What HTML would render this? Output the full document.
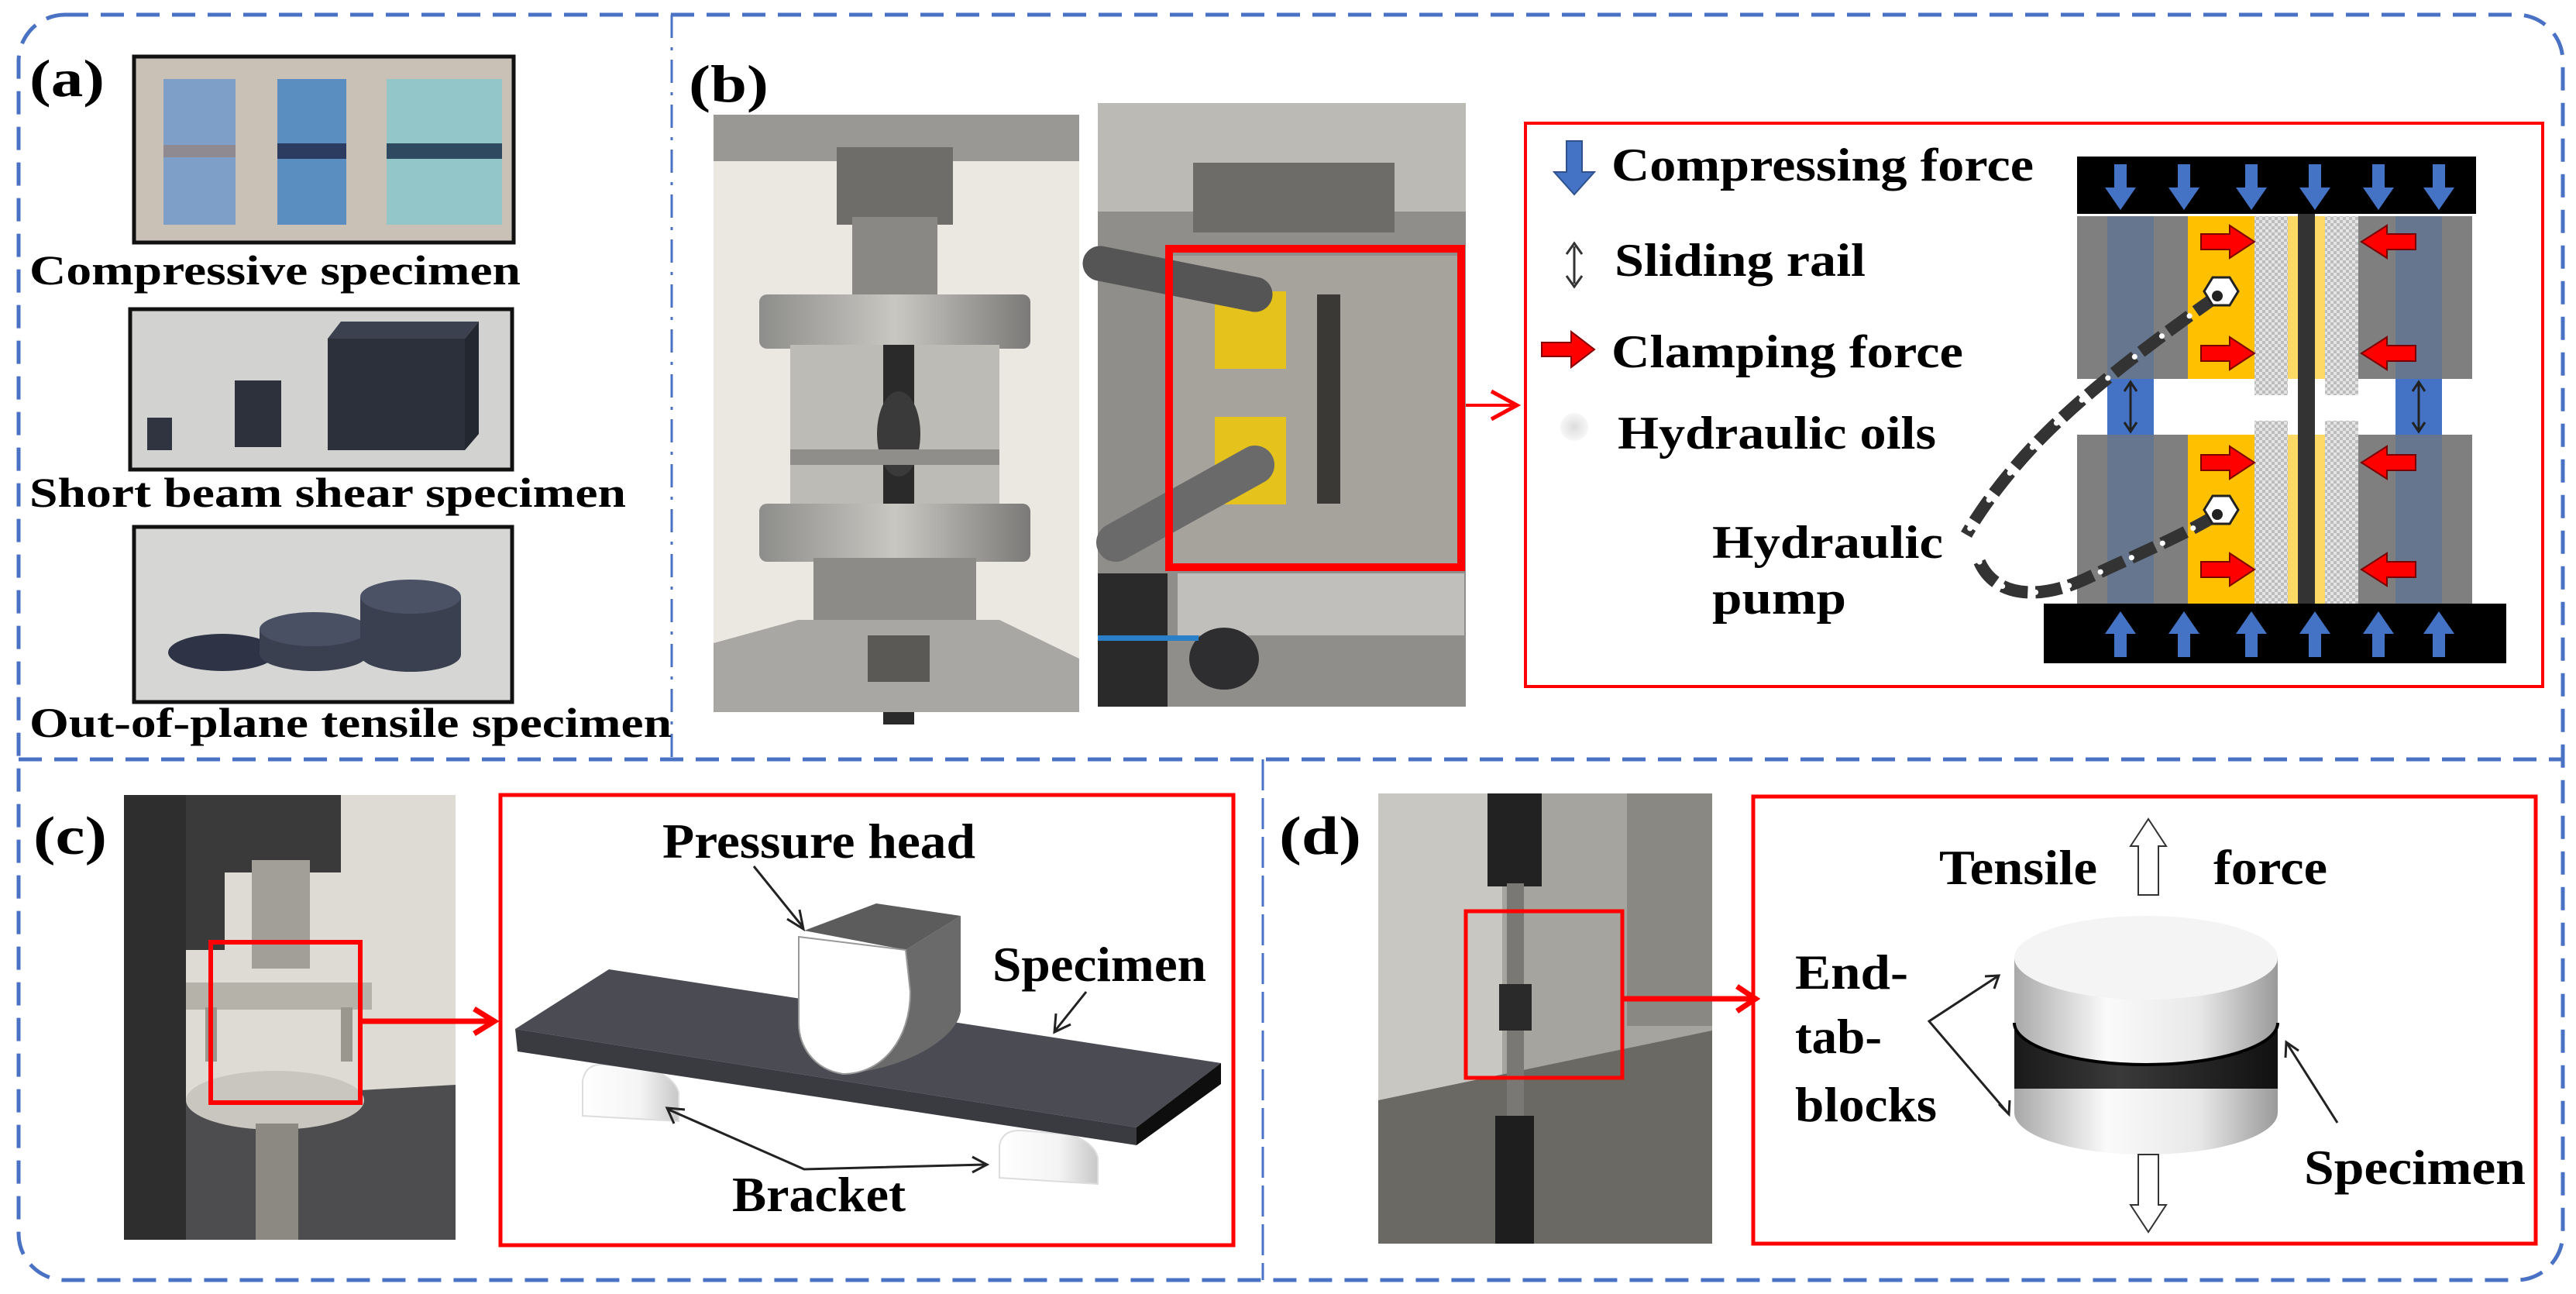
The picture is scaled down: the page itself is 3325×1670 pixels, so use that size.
<!DOCTYPE html>
<html><head><meta charset="utf-8"><style>
html,body{margin:0;padding:0;background:#fff;}
svg{display:block;}
svg text{font-family:"Liberation Serif","Times New Roman",Times,serif;font-weight:bold;fill:#000;}
</style></head><body>
<svg width="3325" height="1670" viewBox="0 0 3325 1670" xmlns="http://www.w3.org/2000/svg" font-family="Liberation Serif, Times New Roman, serif" font-weight="bold">
<defs>
<pattern id="chk" width="8" height="8" patternUnits="userSpaceOnUse"><rect width="8" height="8" fill="#e4e4e4"/><rect width="4" height="4" fill="#bdbdbd"/><rect x="4" y="4" width="4" height="4" fill="#bdbdbd"/></pattern>
<linearGradient id="cyl" x1="0" x2="1" y1="0" y2="0"><stop offset="0" stop-color="#a8a8a8"/><stop offset="0.35" stop-color="#fafafa"/><stop offset="0.7" stop-color="#e8e8e8"/><stop offset="1" stop-color="#9a9a9a"/></linearGradient>
<linearGradient id="cyld" x1="0" x2="1" y1="0" y2="0"><stop offset="0" stop-color="#1a1a1a"/><stop offset="0.4" stop-color="#3a3a3a"/><stop offset="1" stop-color="#111"/></linearGradient>
<linearGradient id="met" x1="0" x2="1"><stop offset="0" stop-color="#8d8d8b"/><stop offset="0.5" stop-color="#c9c7c2"/><stop offset="1" stop-color="#7b7a78"/></linearGradient>
<linearGradient id="brk" x1="0" x2="1"><stop offset="0" stop-color="#fff"/><stop offset="0.6" stop-color="#f4f4f4"/><stop offset="1" stop-color="#c8c8c8"/></linearGradient>
<radialGradient id="oil"><stop offset="0" stop-color="#ddd"/><stop offset="1" stop-color="#f7f7f7"/></radialGradient>
</defs>

<rect x="24" y="19" width="3284" height="1633" rx="60" fill="none" stroke="#4a72c4" stroke-width="5" stroke-dasharray="30 16"/>
<line x1="24" y1="980" x2="3308" y2="980" stroke="#4a72c4" stroke-width="5" stroke-dasharray="30 16"/>
<line x1="867" y1="19" x2="867" y2="980" stroke="#4a72c4" stroke-width="3" stroke-dasharray="30 12 4 12"/>
<line x1="1630" y1="980" x2="1630" y2="1652" stroke="#4a72c4" stroke-width="3" stroke-dasharray="40 10"/>

<!-- (a) -->
<text x="38" y="124" font-size="68" textLength="97" lengthAdjust="spacingAndGlyphs">(a)</text>
<rect x="173" y="73" width="490" height="240" fill="#c9c0b6" stroke="#111" stroke-width="5"/>
<rect x="211" y="102" width="93" height="188" fill="#7ea0c8"/>
<rect x="358" y="102" width="89" height="188" fill="#5a8ec0"/>
<rect x="499" y="102" width="149" height="188" fill="#93c6c8"/>
<rect x="211" y="187" width="93" height="16" fill="#8f8a92"/>
<rect x="358" y="185" width="89" height="20" fill="#2c3c60"/>
<rect x="499" y="185" width="149" height="20" fill="#2f4a60"/>
<text x="38" y="367" font-size="54" textLength="634" lengthAdjust="spacingAndGlyphs">Compressive specimen</text>
<rect x="168" y="399" width="493" height="207" fill="#d2d2d0" stroke="#111" stroke-width="5"/>
<rect x="190" y="539" width="32" height="42" fill="#2f3440"/>
<rect x="303" y="491" width="60" height="86" fill="#2c313c"/>
<polygon points="423,437 440,415 618,415 600,437" fill="#3c4150"/>
<rect x="423" y="437" width="177" height="144" fill="#2b303b"/>
<polygon points="600,437 618,415 618,560 600,581" fill="#23272f"/>
<text x="38" y="654" font-size="54" textLength="770" lengthAdjust="spacingAndGlyphs">Short beam shear specimen</text>
<rect x="173" y="680" width="488" height="226" fill="#d6d6d4" stroke="#111" stroke-width="5"/>
<ellipse cx="287" cy="842" rx="70" ry="24" fill="#2e3446"/>
<rect x="335" y="812" width="140" height="32" fill="#3a4050"/>
<ellipse cx="405" cy="844" rx="70" ry="22" fill="#3a4050"/>
<ellipse cx="405" cy="812" rx="70" ry="22" fill="#4a5064"/>
<rect x="465" y="770" width="130" height="75" fill="#3a4050"/>
<ellipse cx="530" cy="845" rx="65" ry="22" fill="#3a4050"/>
<ellipse cx="530" cy="770" rx="65" ry="22" fill="#4c5266"/>
<text x="38" y="951" font-size="54" textLength="829" lengthAdjust="spacingAndGlyphs">Out-of-plane tensile specimen</text>

<!-- (b) -->
<text x="889" y="131" font-size="68" textLength="103" lengthAdjust="spacingAndGlyphs">(b)</text>
<rect x="921" y="148" width="472" height="771" fill="#ebe8e1"/>
<rect x="921" y="148" width="472" height="60" fill="#9a9894"/>
<rect x="1080" y="190" width="150" height="100" fill="#6f6d6a"/>
<rect x="1100" y="280" width="110" height="110" fill="#8a8884"/>
<rect x="980" y="380" width="350" height="70" rx="10" fill="url(#met)"/>
<rect x="1020" y="445" width="270" height="230" fill="#bdbbb6"/>
<rect x="1140" y="445" width="40" height="490" fill="#2a2a2a"/>
<ellipse cx="1160" cy="560" rx="28" ry="55" fill="#3a3a3a"/>
<rect x="1020" y="580" width="270" height="20" fill="#8f8e8a"/>
<rect x="980" y="650" width="350" height="75" rx="10" fill="url(#met)"/>
<rect x="1050" y="720" width="210" height="110" fill="#8d8b87"/>
<polygon points="921,830 1030,800 1290,800 1393,850 1393,919 921,919" fill="#a9a7a3"/>
<rect x="1120" y="820" width="80" height="60" fill="#5a5956"/>
<rect x="1417" y="133" width="475" height="779" fill="#8f8e8b"/>
<rect x="1417" y="133" width="475" height="140" fill="#bcbab4"/>
<rect x="1540" y="210" width="260" height="90" fill="#6e6c68"/>
<rect x="1510" y="330" width="380" height="400" fill="#a6a39d"/>
<rect x="1568" y="376" width="92" height="100" fill="#e5c21c"/>
<rect x="1568" y="538" width="92" height="113" fill="#e5c21c"/>
<rect x="1700" y="380" width="30" height="270" fill="#3a3936"/>
<path d="M1420,340 L1620,380" stroke="#555" stroke-width="45" stroke-linecap="round"/>
<path d="M1440,700 L1620,600" stroke="#6a6a6a" stroke-width="50" stroke-linecap="round"/>
<rect x="1417" y="740" width="90" height="172" fill="#2a2a2a"/>
<rect x="1520" y="740" width="370" height="80" fill="#c0bfbb"/>
<ellipse cx="1580" cy="850" rx="45" ry="40" fill="#2e2e30"/>
<rect x="1417" y="820" width="130" height="7" fill="#2a80c8"/>
<rect x="1509" y="321" width="377" height="411" fill="none" stroke="#f00" stroke-width="10"/>
<line x1="1892" y1="523" x2="1958" y2="523" stroke="#f00" stroke-width="4"/>
<polyline points="1925,505 1958,523 1925,541" fill="none" stroke="#f00" stroke-width="5"/>
<rect x="1969" y="159" width="1313" height="727" fill="none" stroke="#f00" stroke-width="4"/>

<polygon points="2022,182 2042,182 2042,222 2058,222 2032,251 2006,222 2022,222" fill="#4472c4" stroke="#2f528f" stroke-width="2"/>
<text x="2080" y="233" font-size="60" textLength="545" lengthAdjust="spacingAndGlyphs">Compressing force</text>
<line x1="2032" y1="318" x2="2032" y2="366" stroke="#333" stroke-width="3"/>
<polyline points="2022,328 2032,314 2042,328" fill="none" stroke="#333" stroke-width="3"/>
<polyline points="2022,356 2032,370 2042,356" fill="none" stroke="#333" stroke-width="3"/>
<text x="2084" y="356" font-size="60" textLength="324" lengthAdjust="spacingAndGlyphs">Sliding rail</text>
<polygon points="1990,442 2028,442 2028,428 2058,451 2028,474 2028,460 1990,460" fill="#f00" stroke="#800" stroke-width="2"/>
<text x="2080" y="474" font-size="60" textLength="454" lengthAdjust="spacingAndGlyphs">Clamping force</text>
<circle cx="2032" cy="551" r="18" fill="url(#oil)"/>
<text x="2088" y="579" font-size="60" textLength="411" lengthAdjust="spacingAndGlyphs">Hydraulic oils</text>
<text x="2210" y="720" font-size="60" textLength="298" lengthAdjust="spacingAndGlyphs">Hydraulic</text>
<text x="2210" y="792" font-size="60" textLength="173" lengthAdjust="spacingAndGlyphs">pump</text>

<g>
<rect x="2681" y="279" width="510" height="210" fill="#7f7f7f"/>
<rect x="2681" y="561" width="510" height="218" fill="#7f7f7f"/>
<rect x="2720" y="279" width="60" height="210" fill="#66768e"/>
<rect x="2720" y="561" width="60" height="218" fill="#66768e"/>
<rect x="3092" y="279" width="60" height="210" fill="#66768e"/>
<rect x="3092" y="561" width="60" height="218" fill="#66768e"/>
<rect x="2824" y="279" width="86" height="210" fill="#ffc000"/>
<rect x="2824" y="561" width="86" height="218" fill="#ffc000"/>
<rect x="2953" y="279" width="13" height="210" fill="#ffd966"/>
<rect x="2953" y="561" width="13" height="218" fill="#ffd966"/>
<rect x="2988" y="279" width="13" height="210" fill="#ffd966"/>
<rect x="2988" y="561" width="13" height="218" fill="#ffd966"/>
<rect x="2910" y="279" width="43" height="231" fill="url(#chk)"/>
<rect x="2910" y="543" width="43" height="236" fill="url(#chk)"/>
<rect x="3001" y="279" width="43" height="231" fill="url(#chk)"/>
<rect x="3001" y="543" width="43" height="236" fill="url(#chk)"/>
<rect x="2966" y="276" width="22" height="503" fill="#333"/>
<rect x="2720" y="489" width="60" height="72" fill="#4472c4"/>
<rect x="3092" y="489" width="60" height="72" fill="#4472c4"/>
<g stroke="#222" stroke-width="3" fill="none">
<line x1="2750" y1="495" x2="2750" y2="555"/><polyline points="2742,505 2750,493 2758,505"/><polyline points="2742,545 2750,557 2758,545"/>
<line x1="3122" y1="495" x2="3122" y2="555"/><polyline points="3114,505 3122,493 3130,505"/><polyline points="3114,545 3122,557 3130,545"/>
</g>
<rect x="2681" y="202" width="515" height="74" fill="#000"/>
<rect x="2638" y="779" width="597" height="77" fill="#000"/>
<g fill="#4472c4">
<polygon points="2729,212 2745,212 2745,242 2757,242 2737,271 2717,242 2729,242"/>
<polygon points="2811,212 2827,212 2827,242 2839,242 2819,271 2799,242 2811,242"/>
<polygon points="2898,212 2914,212 2914,242 2926,242 2906,271 2886,242 2898,242"/>
<polygon points="2980,212 2996,212 2996,242 3008,242 2988,271 2968,242 2980,242"/>
<polygon points="3062,212 3078,212 3078,242 3090,242 3070,271 3050,242 3062,242"/>
<polygon points="3140,212 3156,212 3156,242 3168,242 3148,271 3128,242 3140,242"/>
<polygon points="2729,848 2745,848 2745,818 2757,818 2737,789 2717,818 2729,818"/>
<polygon points="2811,848 2827,848 2827,818 2839,818 2819,789 2799,818 2811,818"/>
<polygon points="2898,848 2914,848 2914,818 2926,818 2906,789 2886,818 2898,818"/>
<polygon points="2980,848 2996,848 2996,818 3008,818 2988,789 2968,818 2980,818"/>
<polygon points="3062,848 3078,848 3078,818 3090,818 3070,789 3050,818 3062,818"/>
<polygon points="3140,848 3156,848 3156,818 3168,818 3148,789 3128,818 3140,818"/>
</g>
<g fill="#f00" stroke="#7a0000" stroke-width="2">
<polygon points="2841,302 2878,302 2878,291 2910,312 2878,333 2878,322 2841,322"/>
<polygon points="2841,446 2878,446 2878,435 2910,456 2878,477 2878,466 2841,466"/>
<polygon points="2841,587 2878,587 2878,576 2910,597 2878,618 2878,607 2841,607"/>
<polygon points="2841,725 2878,725 2878,714 2910,735 2878,756 2878,745 2841,745"/>
<polygon points="3118,302 3081,302 3081,291 3048,312 3081,333 3081,322 3118,322"/>
<polygon points="3118,446 3081,446 3081,435 3048,456 3081,477 3081,466 3118,466"/>
<polygon points="3118,587 3081,587 3081,576 3048,597 3081,618 3081,607 3118,607"/>
<polygon points="3118,725 3081,725 3081,714 3048,735 3081,756 3081,745 3118,745"/>
</g>
<path d="M2862,382 C2780,440 2700,500 2640,560 C2590,610 2555,660 2538,690" fill="none" stroke="#333" stroke-width="16" stroke-dasharray="34 10"/>
<path d="M2862,382 C2780,440 2700,500 2640,560 C2590,610 2555,660 2538,690" fill="none" stroke="#fff" stroke-width="7" stroke-linecap="round" stroke-dasharray="0.1 44"/>
<path d="M2555,725 C2575,770 2630,775 2690,748 C2760,715 2820,690 2862,664" fill="none" stroke="#333" stroke-width="16" stroke-dasharray="34 10"/>
<path d="M2555,725 C2575,770 2630,775 2690,748 C2760,715 2820,690 2862,664" fill="none" stroke="#fff" stroke-width="7" stroke-linecap="round" stroke-dasharray="0.1 44"/>
<polygon points="2856,358 2878,358 2889,376 2878,394 2856,394 2845,376" fill="#fff" stroke="#222" stroke-width="3"/>
<circle cx="2862" cy="382" r="7" fill="#222"/>
<polygon points="2856,640 2878,640 2889,658 2878,676 2856,676 2845,658" fill="#fff" stroke="#222" stroke-width="3"/>
<circle cx="2862" cy="664" r="7" fill="#222"/>
</g>

<!-- (c) -->
<text x="43" y="1102" font-size="70" textLength="95" lengthAdjust="spacingAndGlyphs">(c)</text>
<rect x="160" y="1026" width="428" height="574" fill="#dedbd5"/>
<rect x="160" y="1026" width="80" height="574" fill="#2e2e2e"/>
<rect x="240" y="1026" width="50" height="200" fill="#3a3a3a"/>
<polygon points="240,1420 588,1400 588,1600 240,1600" fill="#4d4d4f"/>
<rect x="290" y="1026" width="150" height="100" fill="#3a3a3a"/>
<rect x="325" y="1110" width="75" height="140" fill="#a29f98"/>
<rect x="240" y="1268" width="240" height="35" fill="#b5b2aa"/>
<rect x="265" y="1300" width="15" height="70" fill="#9a978f"/>
<rect x="440" y="1300" width="15" height="70" fill="#9a978f"/>
<ellipse cx="355" cy="1420" rx="115" ry="38" fill="#c9c6bf"/>
<rect x="330" y="1450" width="55" height="150" fill="#8c8983"/>
<rect x="272" y="1216" width="193" height="207" fill="none" stroke="#f00" stroke-width="6"/>
<line x1="465" y1="1318" x2="636" y2="1318" stroke="#f00" stroke-width="7"/>
<polyline points="612,1302 638,1318 612,1334" fill="none" stroke="#f00" stroke-width="7"/>
<rect x="646" y="1026" width="946" height="581" fill="none" stroke="#f00" stroke-width="5"/>
<!-- brackets (arches) -->
<path d="M752,1440 L752,1395 Q756,1372 780,1374 L840,1380 Q870,1390 876,1410 L876,1447 Z" fill="url(#brk)" stroke="#ddd" stroke-width="2"/>
<path d="M1290,1520 L1290,1478 Q1294,1458 1318,1459 L1380,1464 Q1412,1474 1417,1494 L1417,1528 Z" fill="url(#brk)" stroke="#ddd" stroke-width="2"/>
<polygon points="665,1328 786,1251 1576,1372 1467,1455" fill="#4a4b53"/>
<polygon points="665,1328 1467,1455 1467,1478 668,1357" fill="#3a3b41"/>
<polygon points="1467,1455 1576,1372 1576,1399 1467,1478" fill="#0e0e0e"/>
<polygon points="1038,1201 1131,1166 1240,1182 1169,1226" fill="#5c5c5c"/>
<path d="M1169,1226 L1240,1182 L1240,1305 C1235,1340 1170,1380 1088,1386 C1140,1370 1175,1330 1175,1280 Z" fill="#6a6a6a"/>
<path d="M1031,1209 L1169,1226 L1175,1280 C1175,1340 1140,1386 1088,1386 C1050,1380 1031,1350 1031,1320 Z" fill="#fff" stroke="#999" stroke-width="2"/>
<text x="855" y="1107" font-size="64" textLength="404" lengthAdjust="spacingAndGlyphs">Pressure head</text>
<line x1="973" y1="1118" x2="1036" y2="1196" stroke="#222" stroke-width="3"/>
<polyline points="1016,1186 1037,1199 1032,1174" fill="none" stroke="#222" stroke-width="3"/>
<text x="1281" y="1266" font-size="64" textLength="276" lengthAdjust="spacingAndGlyphs">Specimen</text>
<line x1="1402" y1="1280" x2="1362" y2="1330" stroke="#222" stroke-width="3"/>
<polyline points="1363,1308 1361,1332 1382,1322" fill="none" stroke="#222" stroke-width="3"/>
<text x="945" y="1563" font-size="64" textLength="224" lengthAdjust="spacingAndGlyphs">Bracket</text>
<polyline points="863,1432 1038,1509 1272,1503" fill="none" stroke="#222" stroke-width="3"/>
<polyline points="870,1450 861,1430 884,1432" fill="none" stroke="#222" stroke-width="3"/>
<polyline points="1255,1493 1274,1503 1255,1513" fill="none" stroke="#222" stroke-width="3"/>

<!-- (d) -->
<text x="1651" y="1102" font-size="70" textLength="106" lengthAdjust="spacingAndGlyphs">(d)</text>
<rect x="1779" y="1024" width="431" height="581" fill="#a6a49f"/>
<rect x="1779" y="1024" width="160" height="581" fill="#c9c7c2"/>
<rect x="2100" y="1024" width="110" height="300" fill="#8a8883"/>
<polygon points="1779,1420 2210,1330 2210,1605 1779,1605" fill="#6b6964"/>
<rect x="1920" y="1024" width="70" height="120" fill="#222"/>
<rect x="1945" y="1140" width="22" height="300" fill="#7a7874"/>
<rect x="1935" y="1270" width="42" height="60" fill="#2a2a2a"/>
<rect x="1930" y="1440" width="50" height="165" fill="#1e1e1e"/>
<rect x="1892" y="1176" width="202" height="215" fill="none" stroke="#f00" stroke-width="5"/>
<line x1="2094" y1="1289" x2="2264" y2="1289" stroke="#f00" stroke-width="7"/>
<polyline points="2242,1273 2266,1289 2242,1305" fill="none" stroke="#f00" stroke-width="7"/>
<rect x="2263" y="1028" width="1010" height="577" fill="none" stroke="#f00" stroke-width="5"/>
<path d="M2600,1405 L2600,1436 A170,54 0 0 0 2940,1436 L2940,1405 Z" fill="url(#cyl)"/>
<rect x="2600" y="1320" width="340" height="85" fill="url(#cyld)"/>
<path d="M2600,1236 L2600,1320 A170,54 0 0 0 2940,1320 L2940,1236 Z" fill="url(#cyl)"/>
<path d="M2600,1320 A170,54 0 0 0 2940,1320" fill="none" stroke="#000" stroke-width="4"/>
<ellipse cx="2770" cy="1236" rx="170" ry="54" fill="#f4f4f4"/>
<polygon points="2760,1155 2760,1092 2750,1092 2773,1057 2796,1092 2786,1092 2786,1155" fill="#fff" stroke="#333" stroke-width="2"/>
<polygon points="2760,1490 2760,1555 2750,1555 2773,1590 2796,1555 2786,1555 2786,1490" fill="#fff" stroke="#333" stroke-width="2"/>
<text x="2503" y="1141" font-size="64" textLength="204" lengthAdjust="spacingAndGlyphs">Tensile</text>
<text x="2857" y="1141" font-size="64" textLength="147" lengthAdjust="spacingAndGlyphs">force</text>
<text x="2317" y="1276" font-size="64" textLength="146" lengthAdjust="spacingAndGlyphs">End-</text>
<text x="2317" y="1359" font-size="64" textLength="112" lengthAdjust="spacingAndGlyphs">tab-</text>
<text x="2317" y="1447" font-size="64" textLength="183" lengthAdjust="spacingAndGlyphs">blocks</text>
<polyline points="2580,1259 2490,1318 2593,1438" fill="none" stroke="#222" stroke-width="3"/>
<polyline points="2562,1260 2580,1259 2574,1276" fill="none" stroke="#222" stroke-width="3"/>
<polyline points="2580,1425 2593,1438 2594,1420" fill="none" stroke="#222" stroke-width="3"/>
<line x1="3017" y1="1449" x2="2951" y2="1345" stroke="#222" stroke-width="3"/>
<polyline points="2950,1365 2951,1345 2967,1356" fill="none" stroke="#222" stroke-width="3"/>
<text x="2974" y="1528" font-size="64" textLength="286" lengthAdjust="spacingAndGlyphs">Specimen</text>
</svg>
</body></html>
